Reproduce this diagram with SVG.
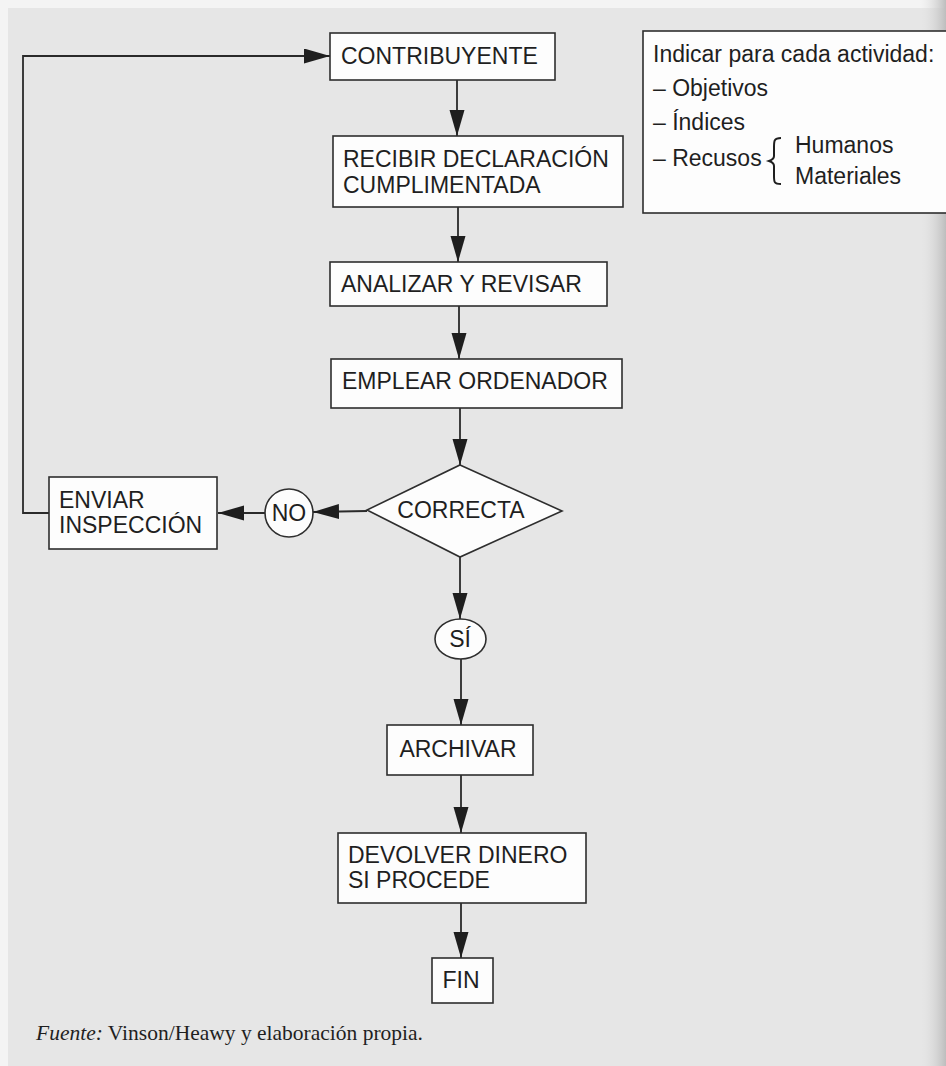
<svg xmlns="http://www.w3.org/2000/svg" width="946" height="1066" viewBox="0 0 946 1066">
  <defs>
    <marker id="arrow" markerUnits="userSpaceOnUse" markerWidth="28" markerHeight="16" refX="26" refY="7.5" orient="auto">
      <path d="M0,0 L26,7.5 L0,15 z" fill="#1e1e1e"/>
    </marker>
    <linearGradient id="edge" x1="0" y1="0" x2="1" y2="0">
      <stop offset="0" stop-color="#e4e4e4" stop-opacity="0"/>
      <stop offset="1" stop-color="#bdbdbd"/>
    </linearGradient>
  </defs>
  <style>
    .box { fill: #fdfdfd; stroke: #2e2e2e; stroke-width: 1.6; }
    .lbl { font-family: "Liberation Sans", Arial, sans-serif; font-size: 23px; fill: #1f1f1f; }
    .mid { text-anchor: middle; }
    .wire { fill: none; stroke: #2a2a2a; stroke-width: 1.8; }
    .src { font-family: "Liberation Serif", "Times New Roman", serif; font-size: 21.5px; fill: #1f1f1f; }
  </style>

  <!-- page -->
  <rect x="0" y="0" width="946" height="1066" fill="#f4f4f4"/>
  <rect x="8" y="8" width="938" height="1058" fill="#e6e6e6"/>
  <rect x="920" y="0" width="26" height="1066" fill="url(#edge)"/>

  <!-- connectors -->
  <g id="connectors">
    <line class="wire" x1="457" y1="80" x2="457" y2="136" marker-end="url(#arrow)"/>
    <line class="wire" x1="458" y1="207" x2="458" y2="262" marker-end="url(#arrow)"/>
    <line class="wire" x1="459" y1="306" x2="459" y2="359" marker-end="url(#arrow)"/>
    <line class="wire" x1="460" y1="408" x2="460" y2="465" marker-end="url(#arrow)"/>
    <line class="wire" x1="460" y1="557" x2="460" y2="619" marker-end="url(#arrow)"/>
    <line class="wire" x1="461" y1="659" x2="461" y2="725" marker-end="url(#arrow)"/>
    <line class="wire" x1="461" y1="775" x2="461" y2="833" marker-end="url(#arrow)"/>
    <line class="wire" x1="461" y1="903" x2="461" y2="958" marker-end="url(#arrow)"/>
    <line class="wire" x1="367" y1="511" x2="313" y2="512" marker-end="url(#arrow)"/>
    <line class="wire" x1="265" y1="513" x2="218" y2="513" marker-end="url(#arrow)"/>
    <polyline class="wire" points="49,513 23,513 23,56 330,56" marker-end="url(#arrow)"/>
  </g>

  <g id="contribuyente">
    <rect class="box" x="330" y="33" width="225" height="47"/>
    <text class="lbl" x="341" y="64">CONTRIBUYENTE</text>
  </g>

  <g id="recibir">
    <rect class="box" x="333" y="136" width="290" height="71"/>
    <text class="lbl" x="343" y="167">RECIBIR DECLARACIÓN</text>
    <text class="lbl" x="343" y="193">CUMPLIMENTADA</text>
  </g>

  <g id="analizar">
    <rect class="box" x="330" y="262" width="277" height="44"/>
    <text class="lbl" x="341" y="292">ANALIZAR Y REVISAR</text>
  </g>

  <g id="emplear">
    <rect class="box" x="331" y="359" width="291" height="49"/>
    <text class="lbl" x="342" y="389">EMPLEAR ORDENADOR</text>
  </g>

  <g id="correcta">
    <polygon class="box" points="460,465 562,511 460,557 367,510"/>
    <text class="lbl mid" x="461" y="518">CORRECTA</text>
  </g>

  <g id="no">
    <circle class="box" cx="289" cy="513" r="24"/>
    <text class="lbl mid" x="289" y="521">NO</text>
  </g>

  <g id="enviar">
    <rect class="box" x="49" y="477" width="168" height="72"/>
    <text class="lbl" x="59" y="508">ENVIAR</text>
    <text class="lbl" x="59" y="533">INSPECCIÓN</text>
  </g>

  <g id="si">
    <ellipse class="box" cx="460.5" cy="639" rx="25.5" ry="20"/>
    <text class="lbl mid" x="460" y="647">SÍ</text>
  </g>

  <g id="archivar">
    <rect class="box" x="387" y="725" width="146" height="50"/>
    <text class="lbl mid" x="458" y="757">ARCHIVAR</text>
  </g>

  <g id="devolver">
    <rect class="box" x="338" y="833" width="248" height="70"/>
    <text class="lbl" x="348" y="863">DEVOLVER DINERO</text>
    <text class="lbl" x="348" y="888">SI PROCEDE</text>
  </g>

  <g id="fin">
    <rect class="box" x="432" y="958" width="61" height="45"/>
    <text class="lbl mid" x="461" y="988">FIN</text>
  </g>

  <g id="legend">
    <rect class="box" x="643" y="31" width="310" height="182"/>
    <text class="lbl" x="653" y="62">Indicar para cada actividad:</text>
    <text class="lbl" x="653" y="96">– Objetivos</text>
    <text class="lbl" x="653" y="130">– Índices</text>
    <text class="lbl" x="653" y="166">– Recusos</text>
    <path d="M781,138 C774,138 774,141 774,147 L774,156 C774,159 772,160 769,161 C772,162 774,163 774,166 L774,176 C774,182 774,184 781,184" fill="none" stroke="#1f1f1f" stroke-width="2"/>
    <text class="lbl" x="795" y="153">Humanos</text>
    <text class="lbl" x="795" y="184">Materiales</text>
  </g>

  <text class="src" x="36" y="1040"><tspan font-style="italic">Fuente:</tspan> Vinson/Heawy y elaboración propia.</text>
</svg>
